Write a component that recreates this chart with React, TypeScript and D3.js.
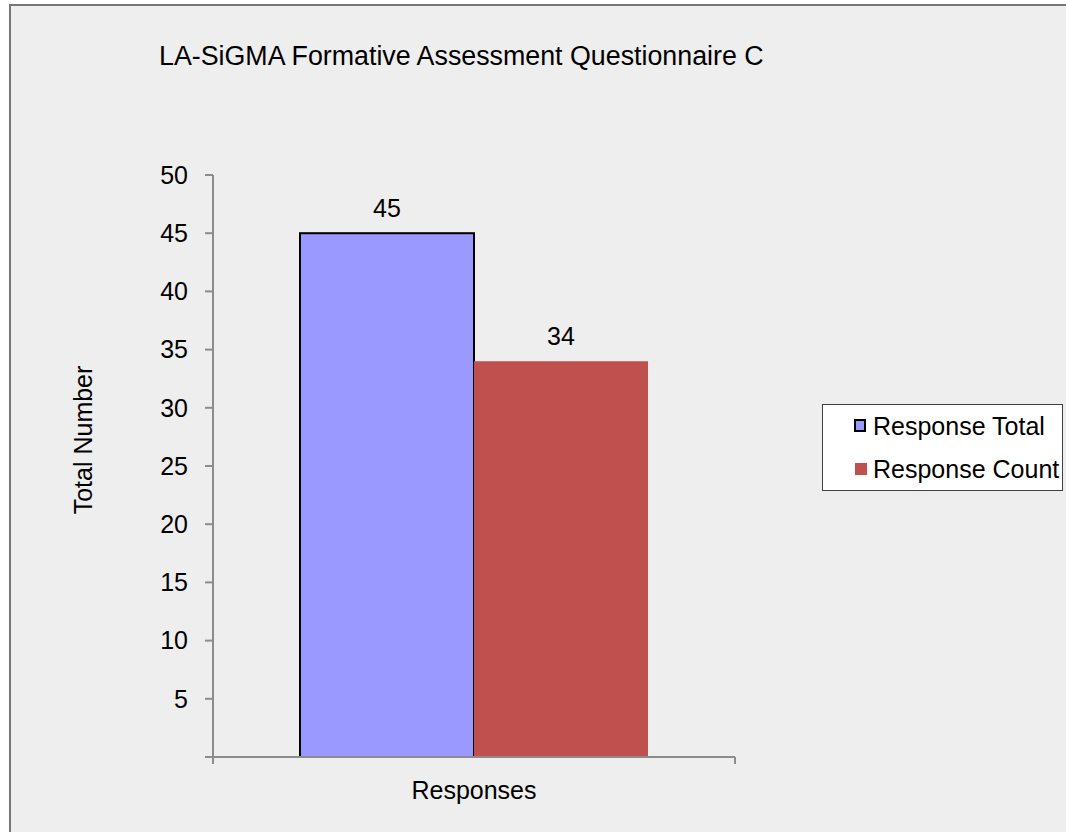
import React from "react";
import * as d3 from "d3";

const categories = ["Responses"];
const seriesNames = ["Response Total", "Response Count"];
const seriesValues = [45, 34];
const seriesColors = ["#9999ff", "#c0504d"];
const yTicks = [5, 10, 15, 20, 25, 30, 35, 40, 45, 50];
const title = "LA-SiGMA Formative Assessment Questionnaire C";
const yTitle = "Total Number";

const W = 1066;
const H = 832;
const FONT = "'Liberation Sans', Arial, sans-serif";
const FS = 25;

export default function App() {
  const plotLeft = 213;
  const plotRight = 735;
  const plotTop = 175;
  const plotBottom = 757;

  const y = d3.scaleLinear().domain([0, 50]).range([plotBottom, plotTop]);
  const xCat = d3.scaleBand().domain(categories).range([plotLeft, plotRight]).paddingInner(0).paddingOuter(0);
  const groupWidth = xCat.bandwidth();
  const inner = d3
    .scaleBand()
    .domain(seriesNames)
    .range([0, groupWidth])
    .paddingOuter(0.5)
    .paddingInner(0);

  return (
    <svg
      width={W}
      height={H}
      style={{ position: "absolute", left: 0, top: 0 }}
      fontFamily={FONT}
    >
      <rect x={0} y={0} width={W} height={H} fill="#ffffff" />
      <rect x={10} y={5} width={W + 20} height={H + 20} fill="#eeeeee" stroke="#767676" strokeWidth={2} />
      <text x={159} y={65} fontSize={26.8} fill="#000">
        {title}
      </text>

      {/* bars */}
      {categories.map((c) =>
        seriesNames.map((s, i) => {
          const x0 = (xCat(c) as number) + (inner(s) as number);
          const v = seriesValues[i];
          return (
            <g key={s}>
              <rect
                x={x0}
                y={y(v)}
                width={inner.bandwidth()}
                height={plotBottom - y(v)}
                fill={seriesColors[i]}
                stroke={i === 0 ? "#000" : "none"}
                strokeWidth={2}
              />
              <text
                x={x0 + inner.bandwidth() / 2}
                y={y(v) - 16}
                fontSize={FS}
                textAnchor="middle"
                fill="#000"
              >
                {v}
              </text>
            </g>
          );
        })
      )}

      {/* y axis */}
      <line x1={plotLeft} x2={plotLeft} y1={plotTop} y2={plotBottom + 7} stroke="#8c8c8c" strokeWidth={2} />
      {[0, ...yTicks].map((t) => (
        <line key={t} x1={plotLeft - 8} x2={plotLeft} y1={y(t)} y2={y(t)} stroke="#8c8c8c" strokeWidth={2} />
      ))}
      {yTicks.map((t) => (
        <text key={t} x={188} y={y(t)} dy="0.35em" fontSize={FS} textAnchor="end" fill="#000">
          {t}
        </text>
      ))}

      {/* x axis */}
      <line x1={plotLeft - 8} x2={plotRight} y1={plotBottom} y2={plotBottom} stroke="#8c8c8c" strokeWidth={2} />
      <line x1={plotRight} x2={plotRight} y1={plotBottom} y2={plotBottom + 7} stroke="#8c8c8c" strokeWidth={2} />
      {categories.map((c) => (
        <text
          key={c}
          x={(xCat(c) as number) + groupWidth / 2}
          y={799}
          fontSize={FS}
          textAnchor="middle"
          fill="#000"
        >
          {c}
        </text>
      ))}

      <text
        transform={`translate(92,440) rotate(-90)`}
        fontSize={FS}
        textAnchor="middle"
        fill="#000"
      >
        {yTitle}
      </text>

      {/* legend */}
      <rect x={822.5} y={404.5} width={240} height={86} fill="#ffffff" stroke="#404040" strokeWidth={1} />
      {seriesNames.map((s, i) => (
        <g key={s} transform={`translate(0, ${426 + i * 43})`}>
          <rect
            x={855}
            y={-6}
            width={i === 0 ? 10 : 12}
            height={i === 0 ? 11 : 12}
            fill={seriesColors[i]}
            stroke={i === 0 ? "#000" : "none"}
            strokeWidth={2}
          />
          <text x={873} y={0} dy="0.35em" fontSize={FS} fill="#000">
            {s}
          </text>
        </g>
      ))}
    </svg>
  );
}
